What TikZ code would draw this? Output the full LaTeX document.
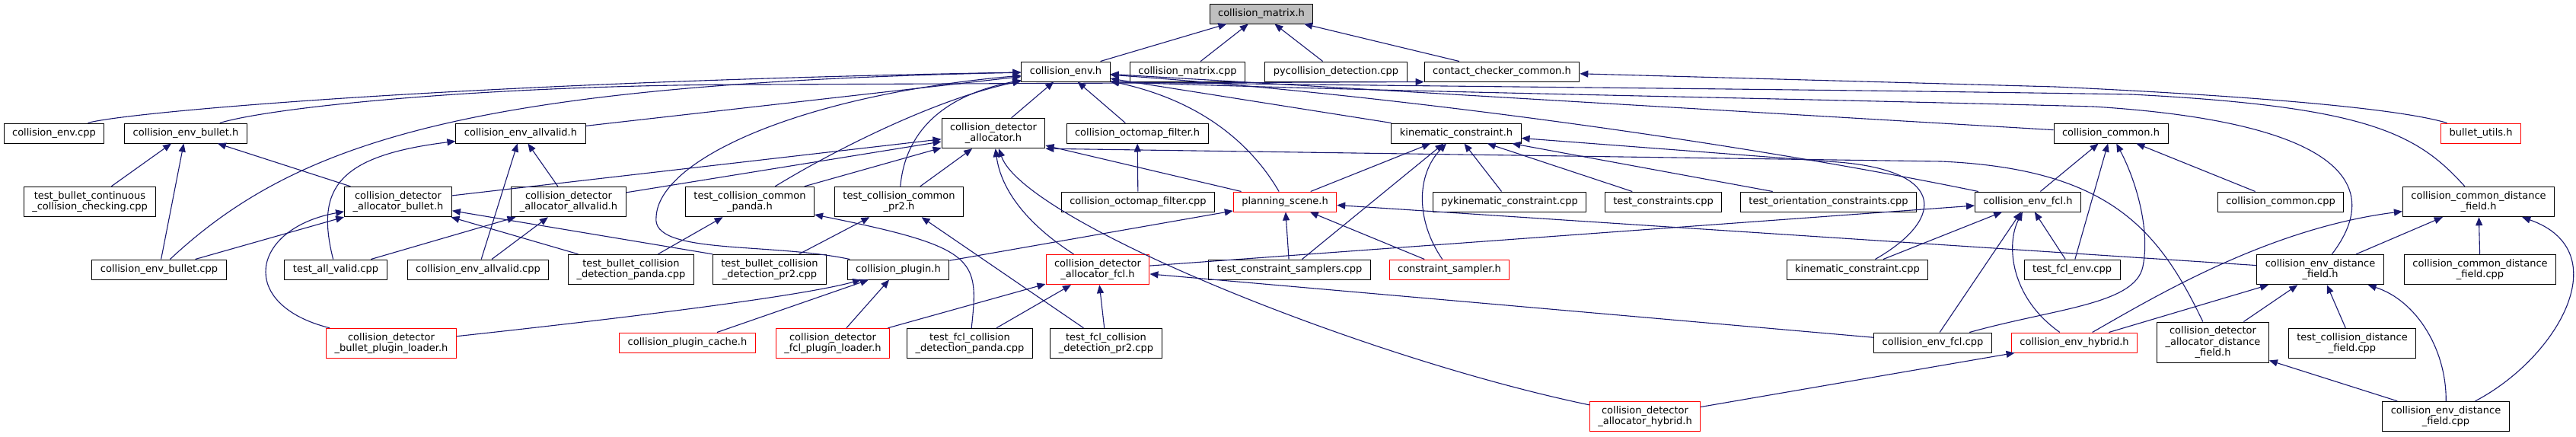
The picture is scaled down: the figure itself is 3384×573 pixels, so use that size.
\documentclass[tikz,border=0pt]{standalone}
\usepackage{fontspec}
\setmainfont{DejaVu Sans}
\usetikzlibrary{arrows.meta}
\definecolor{incblue}{HTML}{191970}
\definecolor{truncred}{HTML}{FF0000}

\begin{document}
\begin{tikzpicture}[x=1pt,y=-1pt,
  filenode/.style={draw=black,line width=1pt,fill=white,inner xsep=11pt,inner ysep=6pt,
    minimum height=26pt,align=center,font=\fontsize{13}{14.5}\selectfont},
  trunc/.style={filenode,draw=truncred},
  rootnode/.style={filenode,fill=black!25},
  incl/.style={draw=incblue,line width=1.1pt,-{Triangle[length=11pt,width=9pt]}}]

\useasboundingbox (0,0) rectangle (3384,573);

% raiz
\node[rootnode] (matrixh) at (1657,18) {collision\_matrix.h};

% nivel 1
\node[filenode] (envh) at (1400,94) {collision\_env.h};
\node[filenode] (matrixcpp) at (1560,94) {collision\_matrix.cpp};
\node[filenode] (pycd) at (1755,94) {pycollision\_detection.cpp};
\node[filenode] (contact) at (1973,94) {contact\_checker\_common.h};

% nivel 2
\node[filenode] (envcpp) at (71,175) {collision\_env.cpp};
\node[filenode] (envbullet) at (244,175) {collision\_env\_bullet.h};
\node[filenode] (envallvalid) at (684,175) {collision\_env\_allvalid.h};
\node[filenode] (alloc) at (1305,175) {collision\_detector\\\_allocator.h};
\node[filenode] (octoh) at (1494,175) {collision\_octomap\_filter.h};
\node[filenode] (kinh) at (1913,175) {kinematic\_constraint.h};
\node[filenode] (commonh) at (2773,175) {collision\_common.h};
\node[trunc] (bulletutils) at (3259,175) {bullet\_utils.h};

% nivel 3
\node[filenode] (testcont) at (118,265) {test\_bullet\_continuous\\\_collision\_checking.cpp};
\node[filenode] (allocbullet) at (523,265) {collision\_detector\\\_allocator\_bullet.h};
\node[filenode] (allocallvalid) at (747,265) {collision\_detector\\\_allocator\_allvalid.h};
\node[filenode] (tccpanda) at (985,265) {test\_collision\_common\\\_panda.h};
\node[filenode] (tccpr2) at (1181,265) {test\_collision\_common\\\_pr2.h};
\node[filenode] (octocpp) at (1495,265) {collision\_octomap\_filter.cpp};
\node[trunc] (planning) at (1688,265) {planning\_scene.h};
\node[filenode] (pykin) at (1983,265) {pykinematic\_constraint.cpp};
\node[filenode] (testcons) at (2185,265) {test\_constraints.cpp};
\node[filenode] (testorient) at (2402,265) {test\_orientation\_constraints.cpp};
\node[filenode] (envfcl) at (2664,265) {collision\_env\_fcl.h};
\node[filenode] (commoncpp) at (2996,265) {collision\_common.cpp};
\node[filenode] (commondfh) at (3256,265) {collision\_common\_distance\\\_field.h};

% nivel 4
\node[filenode] (envbulletcpp) at (209,354) {collision\_env\_bullet.cpp};
\node[filenode] (testallvalid) at (441,354) {test\_all\_valid.cpp};
\node[filenode] (envallvalidcpp) at (628,354) {collision\_env\_allvalid.cpp};
\node[filenode] (tbpanda) at (829,354) {test\_bullet\_collision\\\_detection\_panda.cpp};
\node[filenode] (tbpr2) at (1011,354) {test\_bullet\_collision\\\_detection\_pr2.cpp};
\node[filenode] (plugin) at (1180,354) {collision\_plugin.h};
\node[trunc] (allocfcl) at (1442,354) {collision\_detector\\\_allocator\_fcl.h};
\node[filenode] (tcsamplers) at (1694,354) {test\_constraint\_samplers.cpp};
\node[trunc] (csampler) at (1904,354) {constraint\_sampler.h};
\node[filenode] (kincpp) at (2440,354) {kinematic\_constraint.cpp};
\node[filenode] (testfclenv) at (2722,354) {test\_fcl\_env.cpp};
\node[filenode] (envdfh) at (3048,354) {collision\_env\_distance\\\_field.h};
\node[filenode] (commondfcpp) at (3258,354) {collision\_common\_distance\\\_field.cpp};

% nivel 5
\node[trunc] (bulletloader) at (514,451) {collision\_detector\\\_bullet\_plugin\_loader.h};
\node[trunc] (plugincache) at (903,450) {collision\_plugin\_cache.h};
\node[trunc] (fclloader) at (1094,451) {collision\_detector\\\_fcl\_plugin\_loader.h};
\node[filenode] (tfpanda) at (1274,451) {test\_fcl\_collision\\\_detection\_panda.cpp};
\node[filenode] (tfpr2) at (1453,451) {test\_fcl\_collision\\\_detection\_pr2.cpp};
\node[filenode] (envfclcpp) at (2539,450) {collision\_env\_fcl.cpp};
\node[trunc] (envhybrid) at (2725,450) {collision\_env\_hybrid.h};
\node[filenode] (allocdf) at (2907,450) {collision\_detector\\\_allocator\_distance\\\_field.h};
\node[filenode] (tcdf) at (3090,451) {test\_collision\_distance\\\_field.cpp};

% nivel 6
\node[trunc] (allochybrid) at (2161,547) {collision\_detector\\\_allocator\_hybrid.h};
\node[filenode] (envdfcpp) at (3213,547) {collision\_env\_distance\\\_field.cpp};

% collision_matrix.h
\draw[incl] (envh) -- (matrixh);
\draw[incl] (matrixcpp) -- (matrixh);
\draw[incl] (pycd) -- (matrixh);
\draw[incl] (contact) -- (matrixh);

% contact_checker_common.h
\draw[incl] (envbullet) .. controls (360,140) and (650,111) .. (1000,111) -- (contact.south west);
\draw[incl] (bulletutils) .. controls (3160,145) and (3000,128) .. (2700,114) -- (contact);

% collision_env.h
\draw[incl] (envcpp) .. controls (160,148) and (600,108) .. (envh);
\draw[incl] (envbulletcpp) .. controls (390,185) and (620,110) .. (envh);
\draw[incl] (envallvalid) -- (envh);
\draw[incl] (plugin) .. controls (1010,318) and (855,335) .. (862,285) .. controls (865,210) and (1050,125) .. (envh);
\draw[incl] (tccpanda) .. controls (1100,195) and (1230,130) .. (envh);
\draw[incl] (tccpr2) .. controls (1188,185) and (1225,128) .. (envh);
\draw[incl] (alloc) -- (envh);
\draw[incl] (octoh) -- (envh);
\draw[incl] (planning) .. controls (1650,200) and (1590,135) .. (envh);
\draw[incl] (kinh) -- (envh);
\draw[incl] (commonh) -- (envh);
\draw[incl] (envfcl) .. controls (2350,200) and (1900,130) .. (envh);
\draw[incl] (envdfh) .. controls (3135,240) and (3070,160) .. (2750,140) .. controls (2300,128) and (1800,120) .. (envh.south east);
\draw[incl] (commondfh) .. controls (3175,175) and (3110,140) .. (2800,124) .. controls (2300,116) and (1800,113) .. (envh.south east);

% collision_env_bullet.h
\draw[incl] (testcont) -- (envbullet);
\draw[incl] (envbulletcpp) -- (envbullet);
\draw[incl] (allocbullet) -- (envbullet);

% collision_env_allvalid.h
\draw[incl] (testallvalid) .. controls (415,250) and (440,205) .. (envallvalid);
\draw[incl] (envallvalidcpp) -- (envallvalid);
\draw[incl] (allocallvalid) -- (envallvalid);

% collision_detector_allocator.h
\draw[incl] (allocbullet) -- (alloc);
\draw[incl] (allocallvalid) -- (alloc);
\draw[incl] (tccpanda) -- (alloc);
\draw[incl] (tccpr2) -- (alloc);
\draw[incl] (allocfcl) .. controls (1350,295) and (1315,250) .. (alloc);
\draw[incl] (allochybrid) .. controls (1790,470) and (1345,290) .. (alloc);
\draw[incl] (planning) -- (alloc);
\draw[incl] (allocdf) .. controls (2835,300) and (2770,222) .. (2550,212) -- (alloc.south east);

% collision_octomap_filter.h
\draw[incl] (octocpp) -- (octoh);

% kinematic_constraint.h
\draw[incl] (planning) -- (kinh);
\draw[incl] (tcsamplers) -- (kinh);
\draw[incl] (csampler) .. controls (1860,290) and (1860,230) .. (kinh);
\draw[incl] (pykin) -- (kinh);
\draw[incl] (testcons) -- (kinh);
\draw[incl] (testorient) -- (kinh);
\draw[incl] (kincpp) .. controls (2560,285) and (2555,220) .. (2400,212) -- (kinh);

% planning_scene.h
\draw[incl] (plugin) -- (planning);
\draw[incl] (tcsamplers) -- (planning);
\draw[incl] (csampler) -- (planning);
\draw[incl] (envdfh) -- (planning);

% collision_detector_allocator_bullet.h
\draw[incl] (envbulletcpp) -- (allocbullet);
\draw[incl] (bulletloader) .. controls (310,400) and (330,300) .. (allocbullet);
\draw[incl] (tbpanda) -- (allocbullet);
\draw[incl] (tbpr2.north west) -- (allocbullet);

% collision_detector_allocator_allvalid.h
\draw[incl] (testallvalid) -- (allocallvalid);
\draw[incl] (envallvalidcpp) -- (allocallvalid);

% test_collision_common
\draw[incl] (tbpanda) -- (tccpanda);
\draw[incl] (tfpanda) .. controls (1286,340) and (1285,325) .. (tccpanda);
\draw[incl] (tbpr2) -- (tccpr2);
\draw[incl] (tfpr2) -- (tccpr2);

% collision_plugin.h
\draw[incl] (plugincache) -- (plugin);
\draw[incl] (fclloader) -- (plugin);
\draw[incl] (bulletloader) .. controls (800,420) and (1050,390) .. (plugin);

% collision_detector_allocator_fcl.h
\draw[incl] (fclloader) -- (allocfcl);
\draw[incl] (tfpanda) -- (allocfcl);
\draw[incl] (tfpr2) -- (allocfcl);
\draw[incl] (envfclcpp) -- (allocfcl);

% collision_env_fcl.h
\draw[incl] (allocfcl) -- (envfcl);
\draw[incl] (kincpp) -- (envfcl);
\draw[incl] (envfclcpp) -- (envfcl);
\draw[incl] (testfclenv) -- (envfcl);
\draw[incl] (envhybrid) .. controls (2640,390) and (2635,320) .. (envfcl);

% collision_common.h
\draw[incl] (envfcl) -- (commonh);
\draw[incl] (testfclenv) -- (commonh);
\draw[incl] (envfclcpp) .. controls (2700,405) and (2805,400) .. (2815,350) .. controls (2825,300) and (2805,235) .. (commonh);
\draw[incl] (commoncpp) -- (commonh);

% collision_env_hybrid.h
\draw[incl] (allochybrid) -- (envhybrid);

% collision_env_distance_field.h
\draw[incl] (envhybrid) -- (envdfh);
\draw[incl] (allocdf) -- (envdfh);
\draw[incl] (tcdf) -- (envdfh);
\draw[incl] (envdfcpp) .. controls (3214,460) and (3175,395) .. (envdfh);

% collision_detector_allocator_distance_field.h
\draw[incl] (envdfcpp) -- (allocdf);

% collision_common_distance_field.h
\draw[incl] (envhybrid) .. controls (2830,390) and (2980,300) .. (commondfh);
\draw[incl] (envdfh) -- (commondfh);
\draw[incl] (commondfcpp) -- (commondfh);
\draw[incl] (envdfcpp) .. controls (3360,470) and (3440,330) .. (commondfh);

\end{tikzpicture}
\end{document}
